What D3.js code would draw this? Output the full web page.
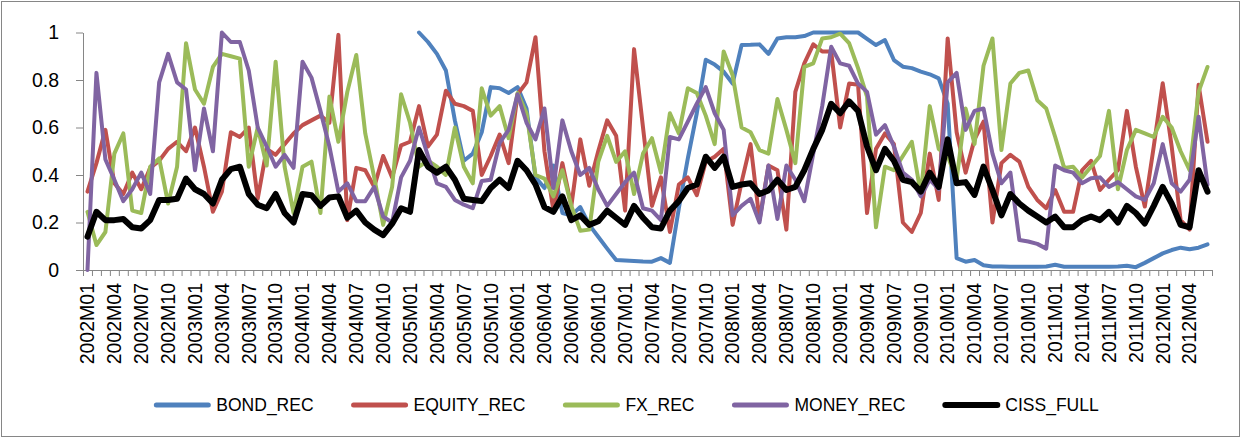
<!DOCTYPE html>
<html lang="en">

<head>
	<meta charset="UTF-8">
	<title>CISS sub-indices</title>
	<script src="https://d3js.org/d3.v7.min.js"></script>
	<style>
		body {
			margin: 0;
			background: #fff;
		}

		text {
			font-family: "Liberation Sans", Arial, sans-serif;
			fill: #000;
		}

		.axis path,
		.axis line {
			stroke: #868686;
			stroke-width: 1px;
		}

		.axis text {
			font-size: 19.5px;
		}

		.series {
			fill: none;
			stroke-linejoin: round;
			stroke-linecap: round;
		}

		.legend text {
			font-size: 17.5px;
		}
	</style>
</head>

<body>
	<script>
		const width = 1243;
		const height = 440;

		// monthly categories 2002M01 .. 2012M06
		const months = [];
		for (let y = 2002; y <= 2012; y++) {
			for (let m = 1; m <= 12; m++) {
				months.push(y + "M" + (m < 10 ? "0" + m : m));
			}
		}
		months.length = 126;

		const yTicks = [0, 0.2, 0.4, 0.6, 0.8, 1];

		const bondRec = [
			null, null, null, null, null, null, null, null, null, null, null, null,
			null, null, null, null, null, null, null, null, null, null, null, null,
			null, null, null, null, null, null, null, null, null, null, null, null,
			null, 1.0, 0.96, 0.91, 0.84, 0.63, 0.46, 0.49, 0.58, 0.77, 0.765, 0.745,
			0.77, 0.68, 0.39, 0.345, 0.44, 0.24, 0.23, 0.265, 0.19, 0.14, 0.09, 0.042,
			0.04, 0.038, 0.036, 0.035, 0.05, 0.03, 0.26, 0.47, 0.66, 0.885, 0.865, 0.835,
			0.785, 0.947, 0.948, 0.95, 0.91, 0.975, 0.98, 0.98, 0.985, 1.0, 1.0, 1.0,
			1.0, 1.0, 1.0, 0.973, 0.947, 0.968, 0.884, 0.856, 0.85, 0.835, 0.824, 0.807,
			0.70, 0.05, 0.035, 0.042, 0.02, 0.015, 0.015, 0.014, 0.014, 0.014, 0.014, 0.015,
			0.022, 0.014, 0.014, 0.014, 0.014, 0.014, 0.014, 0.015, 0.018, 0.012, 0.03, 0.05,
			0.07, 0.084, 0.094, 0.087, 0.094, 0.108
		];

		const equityRec = [
			0.33, 0.45, 0.59, 0.365, 0.32, 0.41, 0.34, 0.43, 0.46, 0.51, 0.54, 0.50,
			0.60, 0.435, 0.245, 0.33, 0.58, 0.56, 0.60, 0.30, 0.51, 0.485, 0.53, 0.575,
			0.61, 0.63, 0.65, 0.62, 0.99, 0.21, 0.43, 0.42, 0.35, 0.48, 0.39, 0.525,
			0.54, 0.69, 0.52, 0.57, 0.755, 0.70, 0.69, 0.67, 0.40, 0.48, 0.57, 0.45,
			0.74, 0.79, 0.98, 0.50, 0.25, 0.45, 0.27, 0.55, 0.355, 0.50, 0.63, 0.565,
			0.25, 0.93, 0.60, 0.27, 0.39, 0.16, 0.36, 0.39, 0.315, 0.456, 0.477, 0.51,
			0.19, 0.37, 0.53, 0.21, 0.44, 0.42, 0.17, 0.75, 0.87, 0.95, 0.92, 0.92,
			0.60, 0.785, 0.78, 0.24, 0.51, 0.575, 0.53, 0.20, 0.16, 0.24, 0.49, 0.295,
			0.975, 0.58, 0.41, 0.55, 0.625, 0.20, 0.45, 0.485, 0.456, 0.35, 0.295, 0.26,
			0.337, 0.245, 0.245, 0.42, 0.46, 0.337, 0.38, 0.42, 0.67, 0.435, 0.267, 0.52,
			0.786, 0.52, 0.21, 0.17, 0.78, 0.54
		];

		const fxRec = [
			0.245, 0.105, 0.16, 0.49, 0.575, 0.25, 0.24, 0.435, 0.47, 0.28, 0.435, 0.955,
			0.76, 0.70, 0.855, 0.91, 0.90, 0.89, 0.435, 0.60, 0.44, 0.877, 0.435, 0.24,
			0.435, 0.456, 0.24, 0.73, 0.54, 0.75, 0.905, 0.575, 0.39, 0.19, 0.35, 0.74,
			0.62, 0.435, 0.46, 0.435, 0.40, 0.60, 0.435, 0.365, 0.765, 0.65, 0.69, 0.555,
			0.745, 0.66, 0.40, 0.385, 0.31, 0.42, 0.27, 0.165, 0.17, 0.455, 0.565, 0.455,
			0.50, 0.32, 0.49, 0.555, 0.41, 0.66, 0.575, 0.765, 0.745, 0.65, 0.53, 0.92,
			0.82, 0.60, 0.58, 0.505, 0.49, 0.72, 0.59, 0.45, 0.855, 0.87, 0.975, 0.98,
			0.995, 0.955, 0.85, 0.73, 0.18, 0.435, 0.42, 0.48, 0.54, 0.32, 0.69, 0.51,
			0.48, 0.38, 0.68, 0.53, 0.86, 0.975, 0.505, 0.785, 0.83, 0.84, 0.715, 0.68,
			0.56, 0.43, 0.435, 0.39, 0.435, 0.48, 0.67, 0.34, 0.505, 0.59, 0.575, 0.56,
			0.645, 0.60, 0.50, 0.42, 0.75, 0.855
		];

		const moneyRec = [
			0.0, 0.83, 0.465, 0.38, 0.29, 0.34, 0.41, 0.32, 0.79, 0.91, 0.79, 0.76,
			0.42, 0.68, 0.50, 1.0, 0.96, 0.96, 0.84, 0.60, 0.52, 0.435, 0.485, 0.43,
			0.877, 0.81, 0.67, 0.52, 0.33, 0.365, 0.29, 0.29, 0.35, 0.225, 0.20, 0.39,
			0.46, 0.60, 0.48, 0.365, 0.35, 0.295, 0.275, 0.26, 0.375, 0.38, 0.535, 0.59,
			0.74, 0.62, 0.55, 0.68, 0.345, 0.63, 0.50, 0.40, 0.43, 0.34, 0.27, 0.32,
			0.37, 0.41, 0.26, 0.25, 0.21, 0.56, 0.55, 0.625, 0.70, 0.77, 0.66, 0.59,
			0.23, 0.27, 0.30, 0.20, 0.44, 0.215, 0.44, 0.38, 0.29, 0.49, 0.69, 0.94,
			0.87, 0.86, 0.785, 0.75, 0.57, 0.61, 0.52, 0.41, 0.38, 0.31, 0.38, 0.34,
			0.79, 0.83, 0.59, 0.67, 0.68, 0.49, 0.365, 0.41, 0.126, 0.12, 0.11, 0.09,
			0.44, 0.42, 0.41, 0.365, 0.386, 0.39, 0.35, 0.37, 0.34, 0.31, 0.295, 0.365,
			0.53, 0.365, 0.33, 0.38, 0.645, 0.36
		];

		const cissFull = [
			0.14, 0.245, 0.21, 0.21, 0.215, 0.18, 0.175, 0.21, 0.295, 0.295, 0.30, 0.385,
			0.34, 0.32, 0.28, 0.38, 0.425, 0.435, 0.32, 0.275, 0.26, 0.32, 0.24, 0.20,
			0.32, 0.315, 0.27, 0.305, 0.31, 0.22, 0.25, 0.20, 0.17, 0.147, 0.195, 0.26,
			0.245, 0.505, 0.435, 0.41, 0.435, 0.38, 0.30, 0.295, 0.29, 0.345, 0.38, 0.345,
			0.46, 0.42, 0.36, 0.265, 0.245, 0.31, 0.21, 0.23, 0.19, 0.205, 0.25, 0.22,
			0.19, 0.27, 0.22, 0.18, 0.175, 0.25, 0.29, 0.345, 0.36, 0.477, 0.43, 0.477,
			0.35, 0.36, 0.365, 0.32, 0.335, 0.38, 0.337, 0.35, 0.42, 0.51, 0.59, 0.70,
			0.66, 0.71, 0.67, 0.52, 0.42, 0.51, 0.46, 0.38, 0.37, 0.33, 0.41, 0.35,
			0.55, 0.365, 0.37, 0.316, 0.435, 0.337, 0.23, 0.32, 0.28, 0.25, 0.225, 0.20,
			0.225, 0.18, 0.18, 0.21, 0.225, 0.21, 0.245, 0.20, 0.27, 0.24, 0.196, 0.27,
			0.35, 0.28, 0.19, 0.18, 0.42, 0.33
		];

		const series = [
			{ name: "BOND_REC", values: bondRec, color: "#4F81BD", w: 4 },
			{ name: "EQUITY_REC", values: equityRec, color: "#C0504D", w: 4 },
			{ name: "FX_REC", values: fxRec, color: "#9BBB59", w: 4 },
			{ name: "MONEY_REC", values: moneyRec, color: "#8064A2", w: 4 },
			{ name: "CISS_FULL", values: cissFull, color: "#000000", w: 6 }
		];

		const plot = { left: 83, right: 1212, top: 32.5, bottom: 270 };

		const svg = d3.select("body").append("svg")
			.attr("width", width)
			.attr("height", height);

		// chart area border
		svg.append("rect")
			.attr("x", 1.5).attr("y", 1.5)
			.attr("width", 1238).attr("height", 435)
			.attr("fill", "none")
			.attr("stroke", "#868686");

		const x = d3.scaleBand()
			.domain(months)
			.range([plot.left, plot.right]);

		const xTick = d3.scaleLinear()
			.domain([0, months.length])
			.range([plot.left, plot.right]);

		const y = d3.scaleLinear()
			.domain([0, 1])
			.range([plot.bottom, plot.top]);

		// y axis
		svg.append("g")
			.attr("class", "axis")
			.attr("transform", `translate(${plot.left},0)`)
			.call(d3.axisLeft(y)
				.tickValues(yTicks)
				.tickFormat(d3.format("~g"))
				.tickSize(7)
				.tickSizeOuter(0)
				.tickPadding(17));

		// x axis: a tick between every month
		svg.append("g")
			.attr("class", "axis")
			.attr("transform", `translate(0,${plot.bottom})`)
			.call(d3.axisBottom(xTick)
				.tickValues(d3.range(months.length + 1))
				.tickFormat("")
				.tickSize(6)
				.tickSizeOuter(0));

		// x labels every third month, rotated
		svg.append("g")
			.attr("class", "axis")
			.selectAll("text")
			.data(months.filter((m, i) => i % 3 === 0))
			.enter().append("text")
			.attr("transform", d => `translate(${x(d) + x.bandwidth() / 2},283) rotate(-90)`)
			.attr("text-anchor", "end")
			.attr("dy", "0.35em")
			.text(d => d);

		const line = d3.line()
			.defined(d => d != null)
			.x((d, i) => x(months[i]) + x.bandwidth() / 2)
			.y(d => y(d));

		svg.append("g")
			.selectAll("path")
			.data(series)
			.enter().append("path")
			.attr("class", "series")
			.attr("stroke", d => d.color)
			.attr("stroke-width", d => d.w)
			.attr("d", d => line(d.values));

		// legend
		const legend = svg.append("g").attr("class", "legend");
		let lx = 0;
		series.forEach(s => {
			const g = legend.append("g").attr("transform", `translate(${lx},0)`);
			g.append("line")
				.attr("x1", 2).attr("x2", 54)
				.attr("y1", 405).attr("y2", 405)
				.attr("stroke", s.color)
				.attr("stroke-width", s.w === 6 ? 6 : 5)
				.attr("stroke-linecap", "round");
			const t = g.append("text")
				.attr("x", 62)
				.attr("y", 411)
				.text(s.name);
			lx += 62 + t.node().getComputedTextLength() + 38;
		});
		const legendW = lx - 38;
		legend.attr("transform", `translate(${(160 + 1093) / 2 - legendW / 2},0)`);
	</script>
</body>

</html>
